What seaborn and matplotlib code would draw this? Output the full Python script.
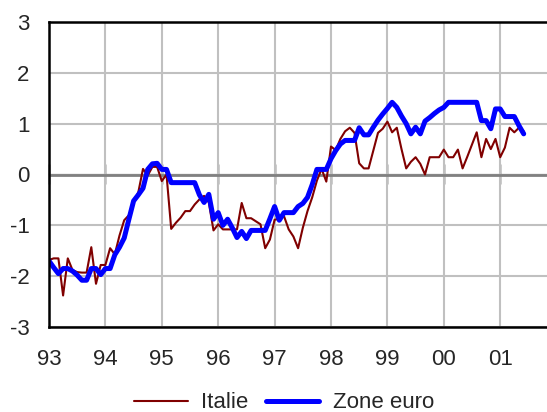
import numpy as np
import pandas as pd
import seaborn as sns
import matplotlib
matplotlib.use('Agg')
import matplotlib.pyplot as plt

sns.set_style("white")
plt.rcParams['font.family'] = ['Liberation Sans', 'DejaVu Sans']
plt.rcParams['axes.unicode_minus'] = False

# monthly series, Jan 1993 - Jun 2001
italie = [-1.68, -1.65, -1.65, -2.38, -1.65, -1.88, -1.92, -1.93, -1.93, -1.43, -2.15, -1.78,
          -1.78, -1.45, -1.57, -1.20, -0.90, -0.80, -0.55, -0.35, 0.11, -0.02, 0.15, 0.15,
          -0.13, 0.00, -1.07, -0.95, -0.85, -0.72, -0.72, -0.59, -0.49, -0.42, -0.55, -1.10,
          -0.98, -1.08, -1.08, -1.08, -1.08, -0.56, -0.86, -0.86, -0.92, -0.98, -1.45, -1.28,
          -0.89, -0.87, -0.82, -1.08, -1.22, -1.45, -1.05, -0.72, -0.45, -0.12, 0.11, -0.14,
          0.55, 0.48, 0.70, 0.85, 0.92, 0.82, 0.22, 0.12, 0.12, 0.47, 0.82, 0.90,
          1.04, 0.83, 0.92, 0.50, 0.12, 0.25, 0.34, 0.21, 0.00, 0.34, 0.34, 0.34,
          0.49, 0.34, 0.34, 0.49, 0.12, 0.35, 0.59, 0.83, 0.34, 0.70, 0.50, 0.70,
          0.34, 0.53, 0.92, 0.83, 0.92, 0.85]
zone_euro = [-1.70, -1.83, -1.95, -1.85, -1.85, -1.90, -1.98, -2.08, -2.08, -1.85, -1.85, -1.97,
             -1.85, -1.85, -1.58, -1.43, -1.25, -0.88, -0.52, -0.40, -0.27, 0.10, 0.21, 0.22,
             0.10, 0.10, -0.16, -0.16, -0.16, -0.16, -0.16, -0.16, -0.40, -0.55, -0.39, -0.88,
             -0.75, -1.00, -0.88, -1.05, -1.24, -1.12, -1.26, -1.10, -1.10, -1.10, -1.10, -0.87,
             -0.63, -0.90, -0.75, -0.75, -0.75, -0.63, -0.57, -0.45, -0.20, 0.10, 0.10, 0.10,
             0.31, 0.47, 0.60, 0.67, 0.67, 0.67, 0.92, 0.78, 0.78, 0.93, 1.07, 1.19,
             1.30, 1.42, 1.32, 1.15, 1.00, 0.80, 0.93, 0.80, 1.05, 1.12, 1.20, 1.27,
             1.32, 1.42, 1.42, 1.42, 1.42, 1.42, 1.42, 1.42, 1.06, 1.06, 0.90, 1.29,
             1.29, 1.14, 1.14, 1.14, 0.96, 0.80]
year_labels = ['93', '94', '95', '96', '97', '98', '99', '00', '01']

months = pd.date_range('1993-01-01', periods=len(italie), freq='MS')
df = pd.DataFrame({'t': months.year + (months.month - 1) / 12,
                   'Italie': italie, 'Zone euro': zone_euro})
year_pos = np.arange(1993, 1993 + len(year_labels))

fig = plt.figure(figsize=(5.47, 4.12), dpi=100)
ax = fig.add_axes([49 / 547, 1 - 327 / 412, 1 - 49 / 547, (327 - 22) / 412])

ax.grid(True, color='#c0c0c0', lw=1.5)
ax.set_axisbelow(True)
ax.axhline(0, color='#808080', lw=2, zorder=1.5)

sns.lineplot(ax=ax, data=df, x='t', y='Italie', color='#800000', lw=1.5, label='Italie')
sns.lineplot(ax=ax, data=df, x='t', y='Zone euro', color='#0000ff', lw=3.6, label='Zone euro')

ax.set_xlim(1993, 1993 + (547 - 49) / 56.4)
ax.set_ylim(-3, 3)
ax.set_xticks(year_pos)
ax.set_xticklabels(year_labels)
ax.set_yticks(range(-3, 4))
ax.set_xlabel('')
ax.set_ylabel('')
ax.tick_params(axis='x', length=0, pad=16, labelsize=16)
ax.tick_params(axis='y', direction='in', length=7, width=1, color='black', pad=14, labelsize=16)

for side in ['left', 'top', 'bottom']:
    ax.spines[side].set_color('black')
    ax.spines[side].set_linewidth(1.8)
ax.spines['right'].set_visible(False)

# tick marks on the zero line
sec = ax.secondary_xaxis(0.5)
sec.set_xticks(year_pos)
sec.set_xticklabels([])
sec.tick_params(axis='x', direction='inout', length=14, width=1, color='black')
sec.spines['bottom'].set_visible(False)

ax.legend(loc='center', bbox_to_anchor=(284 / 547, 1 - 403 / 412), bbox_transform=fig.transFigure,
          ncol=2, frameon=False, fontsize=16, handlelength=2.4, handletextpad=0.6,
          columnspacing=0.8, borderaxespad=0)

fig.savefig('out.png', dpi=100)
